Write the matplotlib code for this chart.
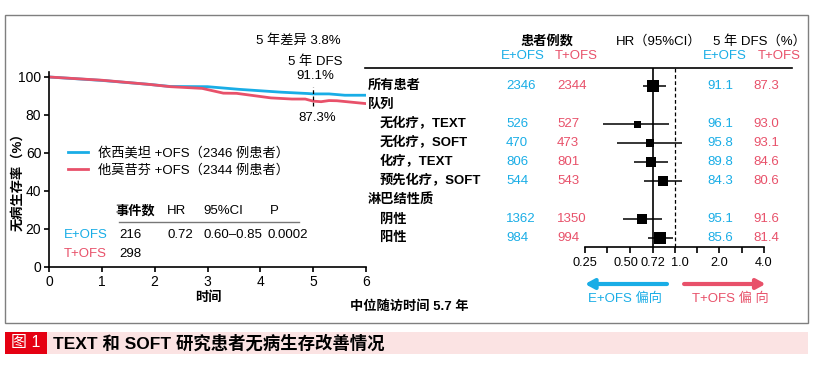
import matplotlib
matplotlib.use("Agg")
import matplotlib.pyplot as plt
import matplotlib.transforms as mtransforms
from matplotlib.patches import Rectangle
from matplotlib.lines import Line2D

plt.rcParams["font.family"] = ["Liberation Sans", "Noto Sans CJK SC"]
plt.rcParams["font.size"] = 9.5
plt.rcParams["axes.unicode_minus"] = False

BLUE = "#19ade6"
RED = "#e8516a"

# --- Kaplan-Meier curves ---
years_e = [0, 1.0, 1.9, 2.3, 3.0, 3.6, 4.4, 4.9, 5.0, 5.3, 5.6, 6.0]
dfs_curve_e = [100, 98.2, 96.1, 95.0, 94.9, 93.5, 92.0, 91.3, 91.1, 91.1, 90.4, 90.4]
years_t = [0, 1.0, 1.9, 2.3, 2.9, 3.3, 3.55, 4.2, 4.6, 4.85, 5.0, 5.15, 5.3, 5.45, 6.0]
dfs_curve_t = [100, 98.3, 96.1, 94.9, 94.0, 91.5, 91.4, 89.0, 88.4, 88.4, 87.3, 87.0, 87.6, 87.5, 86.0]
legend_labels = ["依西美坦 +OFS（2346 例患者）", "他莫昔芬 +OFS（2344 例患者）"]

# --- events table ---
arms = ["E+OFS", "T+OFS"]
events = ["216", "298"]
hr_all = "0.72"
ci_all = "0.60–0.85"
p_all = "0.0002"

# --- forest plot ---
row_labels = ["所有患者", "队列", "无化疗，TEXT", "无化疗，SOFT", "化疗，TEXT",
              "预先化疗，SOFT", "淋巴结性质", "阴性", "阳性"]
row_indent = [0, 0, 1, 1, 1, 1, 0, 1, 1]
n_e = [2346, None, 526, 470, 806, 544, None, 1362, 984]
n_t = [2344, None, 527, 473, 801, 543, None, 1350, 994]
hr = [0.72, None, 0.56, 0.68, 0.69, 0.84, None, 0.60, 0.80]
hr_lo = [0.61, None, 0.33, 0.41, 0.53, 0.62, None, 0.45, 0.66]
hr_hi = [0.87, None, 0.92, 1.13, 0.90, 1.12, None, 0.82, 0.98]
dfs5_e = [91.1, None, 96.1, 95.8, 89.8, 84.3, None, 95.1, 85.6]
dfs5_t = [87.3, None, 93.0, 93.1, 84.6, 80.6, None, 91.6, 81.4]
box_px = [11.5, 0, 7, 7.5, 10.5, 10, 0, 10, 12]   # square size (style)
hr_ticks = [0.25, 0.5, 0.72, 1.0, 2.0, 4.0]
hr_ticklabels = ["0.25", "0.50", "0.72", "1.0", "2.0", "4.0"]
hr_minor = [0.354, 1.41, 2.83]

W, H = 823, 365


def fx(x):
    return x / W


def fy(y):
    return 1 - y / H


def rect(x0, y0, x1, y1):
    return [fx(x0), fy(y1), fx(x1) - fx(x0), fy(y0) - fy(y1)]


def ftext(x, y, s, **kw):
    kw.setdefault("ha", "center")
    kw.setdefault("va", "center")
    fig.text(fx(x), fy(y), s, **kw)


fig = plt.figure(figsize=(W / 100, H / 100), dpi=100)

# frame and caption
fig.patches.append(Rectangle((fx(5), fy(323)), fx(808) - fx(5), fy(15) - fy(323),
                             transform=fig.transFigure, fill=False, ec="#7f7f7f", lw=1.0))
fig.patches.append(Rectangle((fx(5), fy(354)), fx(47) - fx(5), fy(332) - fy(354),
                             transform=fig.transFigure, fc="#e50012", ec="none"))
fig.patches.append(Rectangle((fx(47), fy(354)), fx(808) - fx(47), fy(332) - fy(354),
                             transform=fig.transFigure, fc="#fbe3e3", ec="none"))
ftext(26, 343, "图 1", color="white", fontsize=11.5)
ftext(53, 343, "TEXT 和 SOFT 研究患者无病生存改善情况", ha="left", fontsize=12.5,
      fontweight="bold")

# ---------------- KM plot ----------------
ax = fig.add_axes(rect(49, 72.25, 366, 267))
ax.plot(years_e, dfs_curve_e, color=BLUE, lw=2.0, label=legend_labels[0], solid_joinstyle="round")
ax.plot(years_t, dfs_curve_t, color=RED, lw=2.0, label=legend_labels[1], solid_joinstyle="round")
ax.plot([5, 5], [85, 94.5], color="black", lw=0.9, ls=(0, (3, 2)))
ax.set_xlim(0, 6)
ax.set_ylim(0, 102.5)
ax.set_xticks(range(7))
ax.set_yticks(range(0, 101, 20))
for s in ["top", "right"]:
    ax.spines[s].set_visible(False)
for s in ["left", "bottom"]:
    ax.spines[s].set_linewidth(1.2)
ax.tick_params(length=3.5, width=1.2, pad=2, labelsize=10)
ax.legend(loc="center left", bbox_to_anchor=(fx(68), fy(162)), bbox_transform=fig.transFigure,
          frameon=False, borderpad=0, borderaxespad=0, handlelength=1.55,
          handletextpad=0.7, labelspacing=0.35, fontsize=9.5)

ftext(298, 41, "5 年差异 3.8%")
ftext(315, 62, "5 年 DFS")
ftext(315, 76, "91.1%")
ftext(317, 118, "87.3%")
ftext(18, 179, "无病生存率（%）", rotation=90, fontweight="bold")
ftext(208, 298, "时间", fontweight="bold")
ftext(409, 307, "中位随访时间 5.7 年", fontweight="bold")

# events table
ftext(116, 211, "事件数", ha="left", fontweight="bold")
ftext(167, 211, "HR", ha="left")
ftext(203, 211, "95%CI", ha="left")
ftext(270, 211, "P", ha="left")
fig.lines.append(Line2D([fx(119), fx(299)], [fy(222), fy(222)], transform=fig.transFigure,
                        color="#777777", lw=1.0))
for i, (arm, ev, c) in enumerate(zip(arms, events, [BLUE, RED])):
    y = 235 + 19 * i
    ftext(64, y, arm, ha="left", color=c)
    ftext(119, y, ev, ha="left")
ftext(167, 235, hr_all, ha="left")
ftext(203, 235, ci_all, ha="left")
ftext(267, 235, p_all, ha="left")

# ---------------- forest plot ----------------
fax = fig.add_axes(rect(585, 68, 764, 247))
fax.set_xscale("log")
fax.set_xlim(0.25, 4.0)
fax.set_ylim(len(row_labels) - 1 + 0.47, -0.95)
fax.axvline(0.72, color="black", lw=1.2)
fax.axvline(1.0, color="black", lw=0.9, ls=(0, (3, 2)))
for i in range(len(row_labels)):
    if hr[i] is None:
        continue
    fax.hlines(i, hr_lo[i], hr_hi[i], color="black", lw=1.1)
    fax.plot(hr[i], i, marker="s", color="black", ms=box_px[i] * 0.72, mew=0)
for s in ["top", "right", "left"]:
    fax.spines[s].set_visible(False)
fax.spines["bottom"].set_linewidth(1.2)
fax.set_yticks([])
fax.set_xticks(hr_ticks)
fax.set_xticklabels(hr_ticklabels)
fax.set_xticks(hr_minor, minor=True)
fax.xaxis.set_minor_formatter(plt.NullFormatter())
fax.tick_params(axis="x", which="both", length=4, width=1.2, pad=3, labelsize=9.2)
# nudge crowded labels apart like the original
for lab, dx in zip(fax.get_xticklabels(), [0, -4, 0, 5, 0, 0]):
    lab.set_transform(lab.get_transform() + mtransforms.ScaledTranslation(dx / 100, 0, fig.dpi_scale_trans))

# header
ftext(547, 41, "患者例数", fontweight="bold")
ftext(659, 41, "HR（95%CI）")
ftext(759, 41, "5 年 DFS（%）")
ftext(523, 56, "E+OFS", color=BLUE)
ftext(576, 56, "T+OFS", color=RED)
ftext(725, 56, "E+OFS", color=BLUE)
ftext(779, 56, "T+OFS", color=RED)
fig.lines.append(Line2D([fx(365), fx(792)], [fy(68), fy(68)], transform=fig.transFigure,
                        color="black", lw=1.2))

# table rows: x in figure coords, y in row units
trans = mtransforms.blended_transform_factory(fig.transFigure, fax.transData)
for i, lab in enumerate(row_labels):
    fax.text(fx(368 + 12 * row_indent[i]), i, lab, transform=trans, ha="left", va="center",
             clip_on=False, fontweight="bold")
    if n_e[i] is not None:
        fax.text(fx(506), i, str(n_e[i]), transform=trans, ha="left", va="center", color=BLUE)
        fax.text(fx(557), i, str(n_t[i]), transform=trans, ha="left", va="center", color=RED)
        fax.text(fx(707), i, f"{dfs5_e[i]:.1f}", transform=trans, ha="left", va="center",
                 color=BLUE)
        fax.text(fx(753), i, f"{dfs5_t[i]:.1f}", transform=trans, ha="left", va="center",
                 color=RED)

# direction arrows
atrans = mtransforms.blended_transform_factory(fax.transData, fig.transFigure)
arrow = "-|>,head_length=0.55,head_width=0.3"
fax.annotate("", xy=(0.25, fy(284)), xytext=(0.89, fy(284)), xycoords=atrans,
             textcoords=atrans, annotation_clip=False,
             arrowprops=dict(arrowstyle=arrow, color=BLUE, lw=3, shrinkA=0, shrinkB=0))
fax.annotate("", xy=(4.1, fy(284)), xytext=(1.16, fy(284)), xycoords=atrans,
             textcoords=atrans, annotation_clip=False,
             arrowprops=dict(arrowstyle=arrow, color=RED, lw=3, shrinkA=0, shrinkB=0))
ftext(625, 299, "E+OFS 偏向", color=BLUE)
ftext(730, 299, "T+OFS 偏 向", color=RED)

fig.savefig("out.png", dpi=100)
